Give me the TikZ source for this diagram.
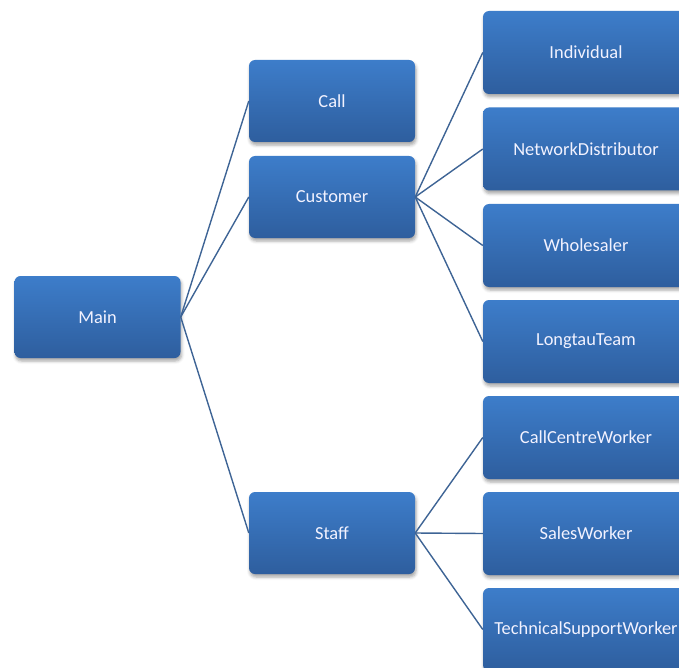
\documentclass[tikz,border=0pt]{standalone}
\usepackage{fontspec}
\setmainfont{Carlito}
\usetikzlibrary{shadows.blur}
\definecolor{boxtop}{HTML}{3D7DCA}
\definecolor{boxbot}{HTML}{2E5E9E}
\definecolor{linkcol}{HTML}{3E6495}
\begin{document}
\begin{tikzpicture}[x=1pt,y=-1pt,
  box/.style={rectangle, rounded corners=6pt, top color=boxtop, bottom color=boxbot,
    draw=none, text=white!95!blue, font=\fontsize{18.4}{20}\selectfont,
    minimum width=166pt, minimum height=82pt, inner sep=0pt,
    blur shadow={shadow xshift=1pt, shadow yshift=-3pt, shadow blur radius=3pt, shadow opacity=35}},
  widebox/.style={box, minimum width=206pt, minimum height=83pt},
  link/.style={draw=linkcol, line width=1.4pt}]
\useasboundingbox (0,0) rectangle (679,668);
\begin{scope}
\clip (0,0) rectangle (679,668);
% root
\node[box] (main) at (97.5,317) {Main};
% second level
\node[box] (call) at (332,101) {Call};
\node[box] (cust) at (332,197) {Customer};
\node[box] (staff) at (332,533) {Staff};
% third level
\node[widebox] (ind) at (586,52.5) {Individual};
\node[widebox] (net) at (586,149) {NetworkDistributor};
\node[widebox] (whole) at (586,245.5) {Wholesaler};
\node[widebox] (team) at (586,341.5) {LongtauTeam};
\node[widebox] (ccw) at (586,437.5) {CallCentreWorker};
\node[widebox] (sales) at (586,533.5) {SalesWorker};
\node[widebox] (tsw) at (586,629.5) {TechnicalSupportWorker};
% connectors
\foreach \c in {call,cust,staff} \draw[link] (main.east) -- (\c.west);
\foreach \c in {ind,net,whole,team} \draw[link] (cust.east) -- (\c.west);
\foreach \c in {ccw,sales,tsw} \draw[link] (staff.east) -- (\c.west);
\end{scope}
\end{tikzpicture}
\end{document}
